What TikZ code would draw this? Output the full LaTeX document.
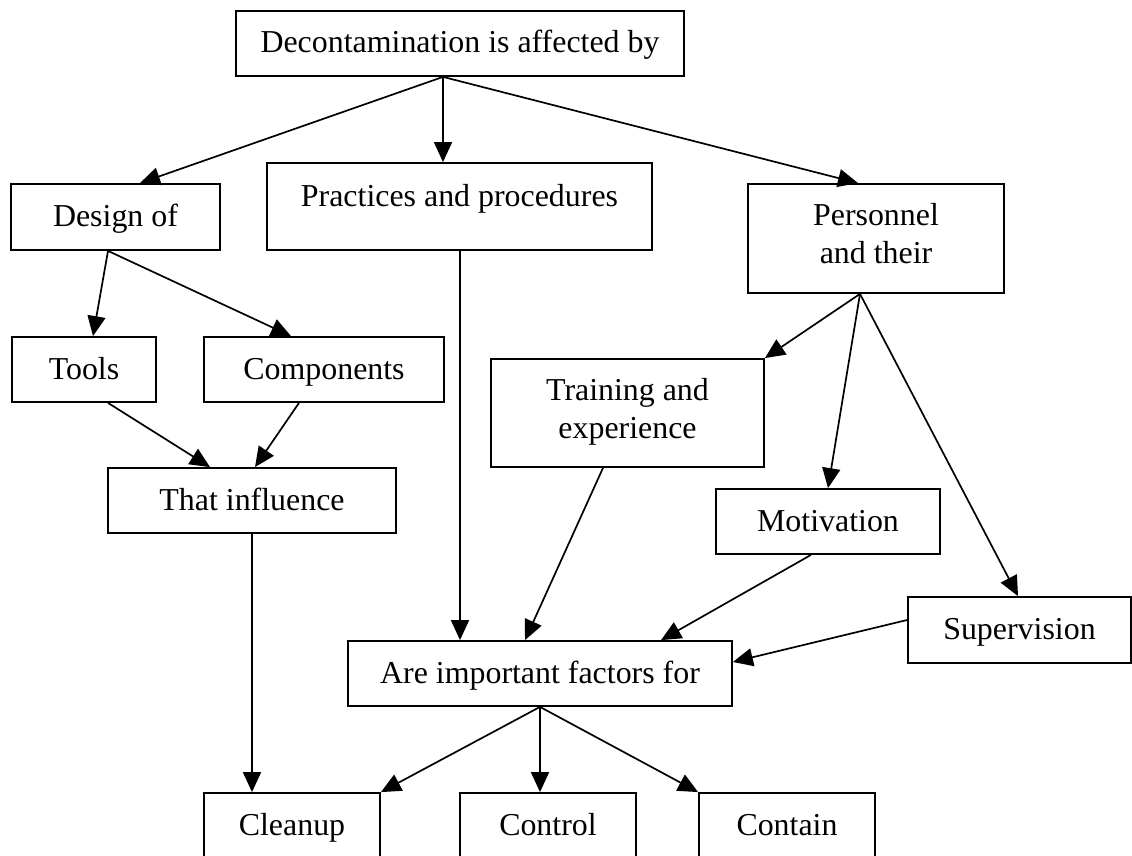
\documentclass[tikz,border=0pt]{standalone}
\usepackage{fontspec}
\setmainfont{Liberation Serif}
\usetikzlibrary{arrows.meta}
\begin{document}
\begin{tikzpicture}[x=1pt,y=-1pt,
  box/.style={draw, line width=1.8pt, inner sep=0pt, font=\fontsize{31.9pt}{37.5pt}\selectfont},
  one/.style={text height=24pt, text depth=5pt},
  two/.style={align=center},
  conn/.style={line width=1.7pt, -{Triangle[length=20pt,width=18pt]}}]
\fill[white] (0,0) rectangle (1132,856);
\useasboundingbox (0,0) rectangle (1132,856);
% boxes
\node[box,one,minimum width=448pt,minimum height=65pt] (decon) at (460,43.5) {Decontamination is affected by};
\node[box,one,minimum width=209pt,minimum height=66pt] (design) at (115.5,217) {Design of};
\node[box,one,text depth=24pt,minimum width=385pt,minimum height=87pt] (prac) at (459.5,206.5) {Practices and procedures};
\node[box,two,text depth=10pt,minimum width=256pt,minimum height=109pt] (pers) at (876,238.5) {Personnel\\and their};
\node[box,one,minimum width=144pt,minimum height=65pt] (tools) at (84,369.5) {Tools};
\node[box,one,minimum width=240pt,minimum height=65pt] (comp) at (324,369.5) {Components};
\node[box,one,minimum width=288pt,minimum height=65pt] (that) at (252,500.5) {That influence};
\node[box,two,text depth=9pt,minimum width=273pt,minimum height=108pt] (train) at (627.5,413) {Training and\\experience};
\node[box,one,minimum width=224pt,minimum height=65pt] (motiv) at (828,521.5) {Motivation};
\node[box,one,minimum width=223pt,minimum height=66pt] (superv) at (1019.5,630) {Supervision};
\node[box,one,minimum width=384pt,minimum height=65pt] (are) at (540,673.5) {Are important factors for};
\node[box,one,minimum width=176pt,minimum height=66pt] (cleanup) at (292,826) {Cleanup};
\node[box,one,minimum width=176pt,minimum height=66pt] (control) at (548,826) {Control};
\node[box,one,minimum width=176pt,minimum height=66pt] (contain) at (787,826) {Contain};
% connectors
\draw[conn] ([xshift=-17pt]decon.south) -- ([xshift=24.5pt]design.north);
\draw[conn] ([xshift=-17pt]decon.south) -- ([xshift=-16.5pt]prac.north);
\draw[conn] ([xshift=-17pt]decon.south) -- ([xshift=-18pt]pers.north);
\draw[conn] ([xshift=-7.5pt]design.south) -- ([xshift=9pt]tools.north);
\draw[conn] ([xshift=-7.5pt]design.south) -- ([xshift=-33pt]comp.north);
\draw[conn] ([xshift=24pt]tools.south) -- ([xshift=-42pt]that.north);
\draw[conn] ([xshift=-25pt]comp.south) -- ([xshift=3pt]that.north);
\draw[conn] (that.south) -- (that.south |- cleanup.north);
\draw[conn] ([xshift=0.5pt]prac.south) -- ([xshift=0.5pt]prac.south |- are.north);
\draw[conn] ([xshift=-16pt]pers.south) -- (train.north east);
\draw[conn] ([xshift=-16pt]pers.south) -- (motiv.north);
\draw[conn] ([xshift=-16pt]pers.south) -- ([xshift=-1.5pt]superv.north);
\draw[conn] ([xshift=-24.5pt]train.south) -- ([xshift=-15pt]are.north);
\draw[conn] ([xshift=-17pt]motiv.south) -- ([xshift=121pt]are.north);
\draw[conn] ([yshift=10pt]superv.west) -- ([yshift=11.5pt]are.east);
\draw[conn] (are.south) -- (cleanup.north east);
\draw[conn] (are.south) -- (are.south |- control.north);
\draw[conn] (are.south) -- (contain.north west);
\end{tikzpicture}
\end{document}
